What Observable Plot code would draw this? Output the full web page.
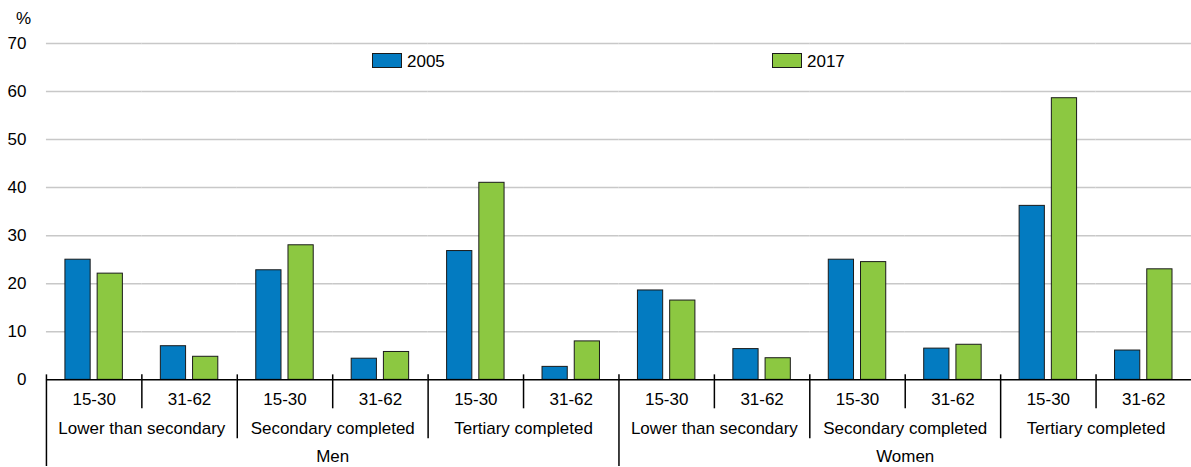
<!DOCTYPE html>
<html>
<head>
<meta charset="utf-8">
<script src="https://cdn.jsdelivr.net/npm/d3@7"></script>
<script src="https://cdn.jsdelivr.net/npm/@observablehq/plot@0.6"></script>
<style>
  html, body { margin: 0; padding: 0; background: #fff; overflow: hidden; }
  #wrap { position: relative; width: 1191px; height: 467px; overflow: hidden;
          font-family: "Liberation Sans", Arial, sans-serif; font-size: 17px; color: #000; }
  #unit { position: absolute; left: 16px; top: 9px; line-height: 19px; }
  .sw { position: absolute; top: 53px; width: 30px; height: 15px; box-sizing: border-box; border: 1px solid #1a1a1a; }
  .lab { position: absolute; top: 52px; line-height: 19px; }
  #chart { position: absolute; left: 0; top: 0; }
</style>
</head>
<body>
<div id="wrap">
  <div id="chart"></div>
  <div id="unit">%</div>
</div>
<script>
// ---- data ----
const sexes = ["Men", "Women"];
const levels = ["Lower than secondary", "Secondary completed", "Tertiary completed"];
const ages = ["15-30", "31-62"];
const years = ["2005", "2017"];
const values2005 = [25.0, 7.0, 22.8, 4.4, 26.8, 2.7, 18.6, 6.4, 25.0, 6.5, 36.2, 6.1];
const values2017 = [22.1, 4.8, 28.0, 5.8, 41.0, 8.0, 16.5, 4.5, 24.5, 7.3, 58.6, 23.0];
const yTicks = [0, 10, 20, 30, 40, 50, 60, 70];
const colors = ["#037BC1", "#8CC841"];

// ---- build tables ----
const groups = [];
sexes.forEach((sex) => levels.forEach((level, li) => ages.forEach((age, ai) =>
  groups.push({sex, level, age, li, ai, key: `${sex}|${level}|${age}`}))));
const rows = [];
groups.forEach((g, i) => {
  rows.push({...g, year: years[0], value: values2005[i]});
  rows.push({...g, year: years[1], value: values2017[i]});
});

// ---- layout ----
const W = 1193, H = 467, MT = 43, MB = 87, ML = 46, MR = 0;
const FW = (W - ML - MR) / groups.length;
const innerH = H - MT - MB;
const sepTop = innerH - 5;
const sepAge = groups.filter((g, i) => i % 2 === 1);
const sepLevel = groups.filter((g, i) => i % 2 === 0 && i % 6 !== 0);
const sepSex = groups.filter((g, i) => i % 6 === 0);
const sepStyle = {fx: "key", x: null, dx: -FW / 2, stroke: "#000", strokeWidth: 1.5, insetTop: sepTop};

const chart = Plot.plot({
  width: W, height: H,
  marginTop: MT, marginBottom: MB, marginLeft: ML, marginRight: MR,
  style: {fontFamily: "Liberation Sans, Arial, sans-serif", fontSize: "17px", background: "transparent", color: "#000"},
  fx: {domain: groups.map(d => d.key), padding: 0, axis: null, round: false},
  x: {domain: years, paddingInner: 0.217, paddingOuter: 0.589, axis: null, round: false},
  y: {domain: [0, 70], ticks: yTicks, tickSize: 0, tickPadding: 20, label: null},
  color: {domain: years, range: colors},
  marks: [
    Plot.gridY(yTicks.slice(1), {stroke: "#c8c8c8", strokeOpacity: 1, strokeWidth: 1.5}),
    Plot.barY(rows, {fx: "key", x: "year", y: "value", fill: "year", stroke: "#1a1a1a", strokeWidth: 1}),
    Plot.ruleY([0], {stroke: "#000", strokeWidth: 1.5}),
    Plot.ruleX(sepAge, {...sepStyle, insetBottom: -29}),
    Plot.ruleX(sepLevel, {...sepStyle, insetBottom: -59}),
    Plot.ruleX(sepSex, {...sepStyle, insetBottom: -MB}),
    Plot.text(groups, {fx: "key", text: "age", frameAnchor: "bottom", textAnchor: "middle", lineAnchor: "middle", dy: 20, fill: "#000"}),
    Plot.text(groups.filter(d => d.ai === 0), {fx: "key", text: "level", frameAnchor: "bottom-right", textAnchor: "middle", lineAnchor: "middle", dy: 49, fill: "#000"}),
    Plot.text(groups.filter(d => d.li === 1 && d.ai === 0), {fx: "key", text: "sex", frameAnchor: "bottom-right", textAnchor: "middle", lineAnchor: "middle", dy: 77, fill: "#000"})
  ]
});
document.getElementById("chart").appendChild(chart);

// ---- legend ----
const wrap = document.getElementById("wrap");
years.forEach((y, i) => {
  const sw = document.createElement("div");
  sw.className = "sw";
  sw.style.left = (372 + 400 * i) + "px";
  sw.style.background = colors[i];
  wrap.appendChild(sw);
  const lab = document.createElement("div");
  lab.className = "lab";
  lab.style.left = (407 + 400 * i) + "px";
  lab.textContent = y;
  wrap.appendChild(lab);
});
</script>
</body>
</html>
